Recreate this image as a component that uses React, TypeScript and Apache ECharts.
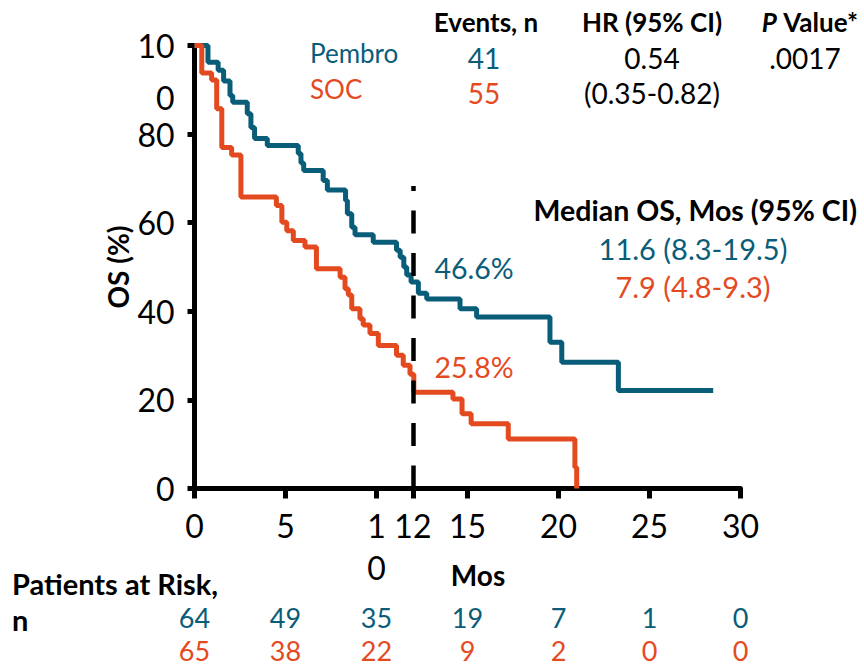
import React, { useEffect, useRef } from 'react';
import * as echarts from 'echarts';

const TEAL = '#0a5d78';
const ORANGE = '#e44a1f';
const FONT = 'Lato, "Open Sans", sans-serif';

// Kaplan-Meier steps: [month, % alive after the event at that month]
const pembroCurve: [number, number][] = [
  [0, 100], [0.74, 96.2], [1.3, 94.4], [1.6, 92], [1.95, 88.7], [2.1, 87.2],
  [2.9, 84.6], [3.1, 81.5], [3.3, 79], [4.0, 77.4], [5.7, 75.6], [5.85, 73.5],
  [6.0, 71.8], [7.07, 69.5], [7.3, 67.4], [8.3, 65], [8.4, 62], [8.64, 59],
  [8.82, 57.3], [9.82, 55.6], [11.1, 53.8], [11.3, 52.2], [11.5, 50],
  [11.66, 48.2], [11.9, 46.6], [12.3, 44.1], [12.76, 42.8], [14.59, 40.6],
  [15.5, 38.7], [19.53, 33], [20.18, 28.5], [23.29, 22.1], [28.5, 22.1],
];
const socCurve: [number, number][] = [
  [0, 100], [0.4, 93.8], [0.94, 92.2], [1.22, 85.7], [1.5, 77], [2.04, 75.3],
  [2.55, 65.8], [4.5, 63.9], [4.8, 60.1], [5.07, 58.2], [5.43, 56], [6.07, 54.5],
  [6.7, 49.6], [8.0, 47.7], [8.27, 45.1], [8.45, 43.7], [8.64, 40.6], [9.09, 38.3],
  [9.27, 36.9], [9.64, 35], [10.1, 32.3], [11.1, 30.1], [11.47, 27.8],
  [11.84, 25.8], [12.05, 21.7], [14.2, 20.2], [14.7, 16.9], [15.2, 14.6],
  [17.24, 11.2], [20.9, 4.8], [21.0, 0],
];

const monthTicks = [0, 5, 10, 12, 15, 20, 25, 30];
const riskMonths = [0, 5, 10, 15, 20, 25, 30];
const pembroAtRisk = [64, 49, 35, 19, 7, 1, 0];
const socAtRisk = [65, 38, 22, 9, 2, 0, 0];
const armNames = ['Pembro', 'SOC'];

const landmarkMonth = 12;
const landmarkTop = 68.3;
const pembroLandmark = 46.6;
const socLandmark = 25.8;

const pembroEvents = '41';
const socEvents = '55';
const hrText = '0.54';
const hrCiText = '(0.35-0.82)';
const pValueText = '.0017';
const pembroMedian = '11.6 (8.3-19.5)';
const socMedian = '7.9 (4.8-9.3)';

const txt = (
  text: string,
  x: number,
  y: number,
  opts: { color?: string; bold?: boolean; size?: number; align?: string } = {}
) => {
  const size = opts.size ?? 26;
  const align = opts.align ?? 'center';
  return {
    type: 'text',
    x,
    y,
    silent: true,
    style: {
      text,
      fill: opts.color ?? '#000',
      font: `${opts.bold ? 'bold ' : ''}${size}px ${FONT}`,
      align,
      textAlign: align,
      verticalAlign: 'middle',
      textVerticalAlign: 'middle',
    },
  };
};

const tickFont = { fontFamily: FONT, fontSize: 32, color: '#000' };

export default function App() {
  const ref = useRef<HTMLDivElement>(null);

  useEffect(() => {
    if (!ref.current) return;
    const chart = echarts.init(ref.current, null, { renderer: 'svg' });

    const riskRow = (arm: string, counts: number[], color: string) => ({
      type: 'scatter',
      xAxisIndex: 1,
      yAxisIndex: 1,
      symbolSize: 1,
      itemStyle: { color: 'transparent', opacity: 1 },
      silent: true,
      label: {
        show: true,
        position: 'inside',
        formatter: (p: any) => String(p.value[2]),
        color,
        opacity: 1,
        fontFamily: FONT,
        fontSize: 27,
        lineHeight: 24,
      },
      data: riskMonths.map((m, i) => [m, arm, counts[i]]),
    });

    chart.setOption({
      animation: false,
      textStyle: { fontFamily: FONT },
      grid: [
        { left: 194.5, top: 45.5, width: 546, height: 443, outerBoundsMode: 'none', containLabel: false },
        { left: 194.5, top: 601, width: 546, height: 66, outerBoundsMode: 'none', containLabel: false },
      ],
      xAxis: [
        {
          type: 'value',
          gridIndex: 0,
          min: 0,
          max: 30,
          interval: 5,
          splitLine: { show: false },
          axisLine: { onZero: false, lineStyle: { color: '#000', width: 5 } },
          axisTick: {
            customValues: monthTicks,
            length: 10,
            lineStyle: { color: '#000', width: 5 },
          },
          axisLabel: {
            customValues: monthTicks,
            showMinLabel: true,
            showMaxLabel: true,
            hideOverlap: false,
            formatter: (v: number) => (v === 10 ? '1\n0' : String(v)),
            ...tickFont,
            lineHeight: 42,
            margin: 16,
          },
          name: 'Mos',
          nameLocation: 'middle',
          nameGap: 72,
          nameMoveOverlap: false,
          nameTextStyle: {
            color: '#000',
            fontFamily: FONT,
            fontWeight: 'bold',
            fontSize: 28,
            padding: [0, 0, 0, 21],
          },
        },
        {
          type: 'value',
          gridIndex: 1,
          min: 0,
          max: 30,
          show: false,
        },
      ],
      yAxis: [
        {
          type: 'value',
          gridIndex: 0,
          min: 0,
          max: 100,
          interval: 20,
          splitLine: { show: false },
          axisLine: { show: true, lineStyle: { color: '#000', width: 5 } },
          axisTick: { show: true, length: 7, lineStyle: { color: '#000', width: 5 } },
          axisLabel: {
            showMinLabel: true,
            showMaxLabel: true,
            hideOverlap: false,
            // the top value wraps onto a second line below the tick
            formatter: (v: number) => (v === 100 ? '{g| }\n{a|10}\n{b|0}' : String(v)),
            ...tickFont,
            lineHeight: 32,
            margin: 20,
            rich: {
              g: { ...tickFont, lineHeight: 36 },
              a: { ...tickFont, lineHeight: 68 },
              b: { ...tickFont, lineHeight: 36 },
            },
          },
          name: 'OS (%)',
          nameLocation: 'middle',
          nameGap: 63,
          nameMoveOverlap: false,
          nameTextStyle: {
            color: '#000',
            fontFamily: FONT,
            fontWeight: 'bold',
            fontSize: 28,
          },
        },
        {
          type: 'category',
          gridIndex: 1,
          data: armNames,
          inverse: true,
          show: false,
        },
      ],
      series: [
        {
          name: 'Pembro',
          type: 'line',
          step: 'end',
          data: pembroCurve,
          showSymbol: false,
          symbol: 'none',
          clip: false,
          z: 2,
          lineStyle: { color: TEAL, width: 5 },
          markLine: {
            silent: true,
            symbol: ['none', 'none'],
            label: { show: false },
            lineStyle: { color: '#000', width: 4.5, type: [23, 19.5] },
            data: [[{ coord: [landmarkMonth, 0] }, { coord: [landmarkMonth, landmarkTop] }]],
          },
          markPoint: {
            silent: true,
            symbol: 'circle',
            symbolSize: 1,
            itemStyle: { color: 'transparent' },
            label: {
              show: true,
              position: 'right',
              distance: 21,
              offset: [0, -14],
              formatter: `${pembroLandmark}%`,
              color: TEAL,
              fontFamily: FONT,
              fontSize: 28.5,
            },
            data: [{ coord: [landmarkMonth, pembroLandmark] }],
          },
        },
        {
          name: 'SOC',
          type: 'line',
          step: 'end',
          data: socCurve,
          showSymbol: false,
          symbol: 'none',
          clip: false,
          z: 3,
          lineStyle: { color: ORANGE, width: 5 },
          markPoint: {
            silent: true,
            symbol: 'circle',
            symbolSize: 1,
            itemStyle: { color: 'transparent' },
            label: {
              show: true,
              position: 'right',
              distance: 21,
              offset: [0, -7],
              formatter: `${socLandmark}%`,
              color: ORANGE,
              fontFamily: FONT,
              fontSize: 28.5,
            },
            data: [{ coord: [landmarkMonth, socLandmark] }],
          },
        },
        riskRow('Pembro', pembroAtRisk, TEAL),
        riskRow('SOC', socAtRisk, ORANGE),
      ],
      graphic: [
        txt('Events, n', 486, 22, { bold: true }),
        txt('HR (95% CI)', 652, 22, { bold: true }),
        {
          type: 'text',
          x: 858,
          y: 22,
          silent: true,
          style: {
            text: '{i|P} Value*',
            fill: '#000',
            font: `bold 26px ${FONT}`,
            align: 'right',
            textAlign: 'right',
            verticalAlign: 'middle',
            textVerticalAlign: 'middle',
            rich: { i: { fontStyle: 'italic', fontWeight: 'bold', fontSize: 26, fontFamily: FONT } },
          },
        },
        txt('Pembro', 310, 53, { color: TEAL, align: 'left' }),
        txt('SOC', 310, 89, { color: ORANGE, align: 'left' }),
        txt(pembroEvents, 484, 58, { color: TEAL, size: 28 }),
        txt(socEvents, 484, 93, { color: ORANGE, size: 28 }),
        txt(hrText, 652, 58, { size: 28 }),
        txt(hrCiText, 652, 93, { size: 28 }),
        txt(pValueText, 805, 58, { size: 28 }),
        txt('Median OS, Mos (95% CI)', 857, 210, { bold: true, size: 28.5, align: 'right' }),
        txt(pembroMedian, 693, 248, { color: TEAL, size: 29 }),
        txt(socMedian, 693, 286, { color: ORANGE, size: 29 }),
        txt('Patients at Risk,', 12, 583, { bold: true, size: 29, align: 'left' }),
        txt('n', 12, 619, { bold: true, size: 29, align: 'left' }),
      ],
    });

    return () => chart.dispose();
  }, []);

  return (
    <div
      ref={ref}
      style={{ position: 'absolute', left: 0, top: 0, width: 864, height: 668 }}
    />
  );
}
